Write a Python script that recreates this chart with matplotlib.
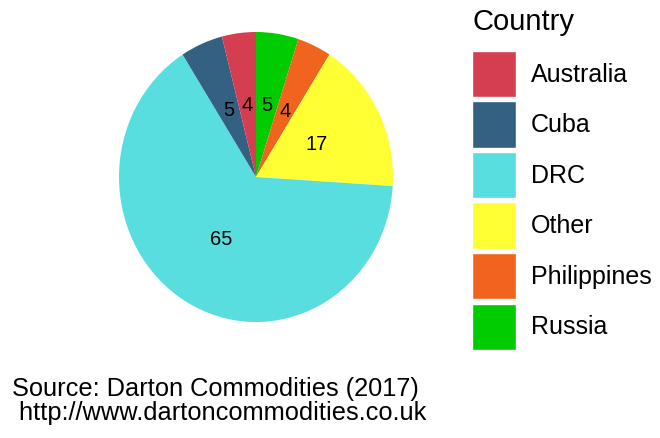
import matplotlib.pyplot as plt
from matplotlib.patches import Rectangle

plt.rcParams['font.family'] = ['Liberation Sans', 'DejaVu Sans']

# share of cobalt production, clockwise from 12 o'clock
countries = ['Russia', 'Philippines', 'Other', 'DRC', 'Cuba', 'Australia']
shares = [5, 4, 17, 65, 5, 4]
colors = ['#00CC00', '#F0641E', '#FFFF33', '#59DEE0', '#346082', '#D43E50']

# legend is alphabetical
legend_order = ['Australia', 'Cuba', 'DRC', 'Other', 'Philippines', 'Russia']

W, H = 660, 438
fig = plt.figure(figsize=(6.6, 4.38), dpi=100)

# pie is slightly stretched vertically, like the R output
cx, cy, rx, ry = 256, 177, 137, 145
ax = fig.add_axes([(cx - rx) / W, (H - cy - ry) / H, 2 * rx / W, 2 * ry / H])
wedges, texts = ax.pie(shares, colors=colors, startangle=90, counterclock=False,
                       labels=[str(s) for s in shares], labeldistance=0.5,
                       textprops={'fontsize': 14.5, 'color': 'black'})
for t in texts:
    t.set_ha('center')
    t.set_va('center')
ax.set_aspect('auto')
ax.set_xlim(-1, 1)
ax.set_ylim(-1, 1)
ax.axis('off')

# legend drawn by hand
fig.text(472 / W, 1 - 22 / H, 'Country', fontsize=21, ha='left', va='center')
col = dict(zip(countries, colors))
for i, name in enumerate(legend_order):
    ytop = 51 + i * 50.5
    fig.add_artist(Rectangle((472 / W, 1 - (ytop + 46) / H), 44 / W, 46 / H,
                             transform=fig.transFigure, facecolor=col[name],
                             edgecolor='white', linewidth=1))
    fig.text(531 / W, 1 - (ytop + 24) / H, name, fontsize=18, ha='left', va='center')

fig.text(12 / W, 1 - 389 / H, 'Source: Darton Commodities (2017)', fontsize=18.3,
         ha='left', va='center')
fig.text(12 / W, 1 - 413 / H, ' http://www.dartoncommodities.co.uk', fontsize=18.3,
         ha='left', va='center')

fig.savefig('out.png', dpi=100, facecolor='white')
